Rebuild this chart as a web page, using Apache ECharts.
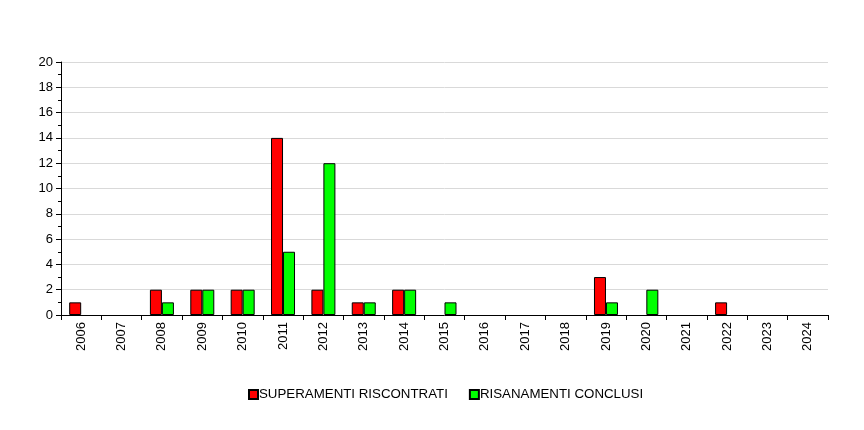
<!DOCTYPE html>
<html><head><meta charset="utf-8">
<script src="https://cdn.jsdelivr.net/npm/echarts@6/dist/echarts.min.js"></script>
<style>html,body{margin:0;padding:0;background:#fff}#c{width:864px;height:430px}</style>
</head><body><div id="c"></div>
<script>
const categories = ['2006','2007','2008','2009','2010','2011','2012','2013','2014','2015','2016','2017','2018','2019','2020','2021','2022','2023','2024'];
const superamenti = [1,0,2,2,2,14,2,1,2,0,0,0,0,3,0,0,1,0,0];
const risanamenti = [0,0,1,2,2,5,12,1,2,1,0,0,0,1,2,0,0,0,0];
const seriesNames = ['SUPERAMENTI RISCONTRATI','RISANAMENTI CONCLUSI'];
const font = 'Liberation Sans, Arial, sans-serif';
const hideZero = arr => arr.map(v => v === 0 ? '-' : v);
const chart = echarts.init(document.getElementById('c'));
chart.setOption({
  animation:false,
  grid:{left:61,right:36,top:62,bottom:115},
  legend:{top:388,left:248,padding:0,itemWidth:9,itemHeight:9,itemGap:21,
    textStyle:{fontFamily:font,fontSize:13.3,color:'#000',padding:[0,0,0,-4]},
    icon:'rect'},
  xAxis:{type:'category',data:categories,
    axisLine:{lineStyle:{color:'#000',width:1}},
    axisTick:{show:true,alignWithLabel:false,length:5,lineStyle:{color:'#000'}},
    axisLabel:{rotate:90,fontFamily:font,fontSize:13,color:'#000',margin:7,interval:0}},
  yAxis:{type:'value',min:0,max:20,interval:2,
    axisLine:{show:true,lineStyle:{color:'#000'}},
    axisTick:{show:true,length:5,lineStyle:{color:'#000'}},
    minorTick:{show:true,splitNumber:2,length:3,lineStyle:{color:'#000'}},
    splitLine:{lineStyle:{color:'#d9d9d9'}},
    axisLabel:{fontFamily:font,fontSize:13,color:'#000',margin:8}},
  series:[
    {name:seriesNames[0],type:'bar',data:hideZero(superamenti),barWidth:12,barGap:'0%',
      itemStyle:{color:'#ff0000',borderColor:'#000',borderWidth:1}},
    {name:seriesNames[1],type:'bar',data:hideZero(risanamenti),barWidth:12,barGap:'0%',
      itemStyle:{color:'#00ff00',borderColor:'#000',borderWidth:1}}
  ]
});
</script></body></html>
